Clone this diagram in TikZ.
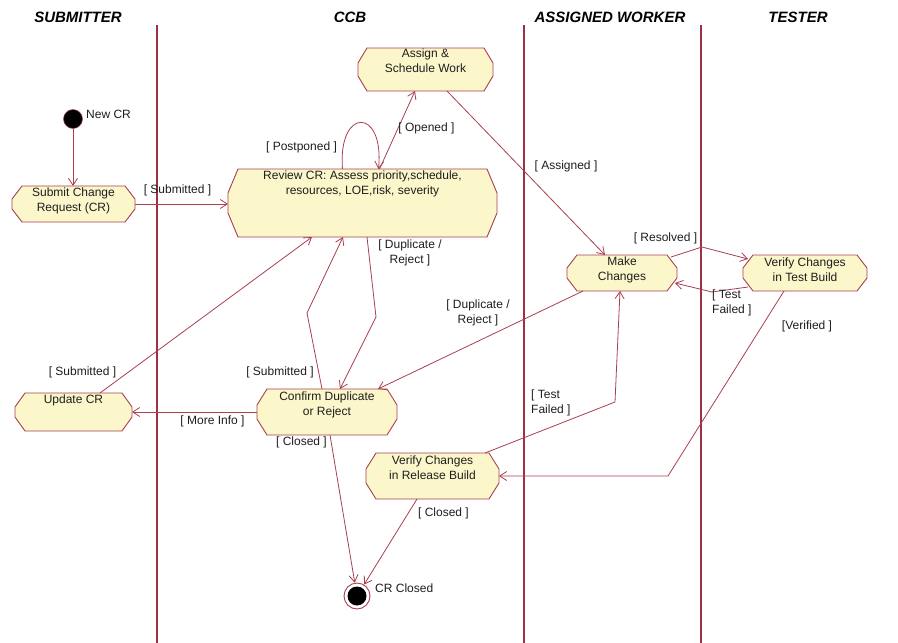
\documentclass[tikz,border=0pt]{standalone}
\usepackage{fontspec}
\setmainfont{Liberation Sans}
\usetikzlibrary{arrows.meta,calc}

\definecolor{lanered}{HTML}{9E2F45}
\definecolor{edgered}{HTML}{A8404F}
\definecolor{statefill}{HTML}{FCF6CB}
\definecolor{inkgray}{HTML}{1E1E1E}

% Octagonal outline of an activity state: node name, chamfer width, chamfer height
\newcommand\chamferbox[3]{%
  \filldraw[boxline]
    ($(#1.north west)+(#2,0)$) -- ($(#1.north east)+(-#2,0)$) --
    ($(#1.north east)+(0,#3)$) -- ($(#1.south east)+(0,-#3)$) --
    ($(#1.south east)+(-#2,0)$) -- ($(#1.south west)+(#2,0)$) --
    ($(#1.south west)+(0,-#3)$) -- ($(#1.north west)+(0,#3)$) -- cycle;}

\tikzset{
  lane/.style={draw=lanered, line width=2pt},
  statebox/.style={rectangle, inner sep=0pt, outer sep=0pt},
  boxline/.style={draw=edgered, fill=statefill, line width=0.9pt},
  boxtext/.style={anchor=north, inner sep=0pt, align=center, text=inkgray,
    font=\fontsize{12}{15}\selectfont},
  guard/.style={inner sep=0pt, align=center, text=inkgray,
    font=\fontsize{12}{15}\selectfont},
  flow/.style={draw=edgered, line width=0.8pt,
    -{Straight Barb[length=7pt,width=9pt]}},
  header/.style={inner sep=0pt, text=black,
    font=\fontsize{15}{15}\selectfont\bfseries\itshape},
}

\begin{document}
\begin{tikzpicture}[x=1pt,y=-1pt]
\fill[white] (0,0) rectangle (898,643);
\useasboundingbox (0,0) rectangle (898,643);

% swimlane titles
\node[header] (h-sub) at (78,17) {SUBMITTER};
\node[header] (h-ccb) at (350,17) {CCB};
\node[header] (h-aw)  at (610,17) {ASSIGNED WORKER};
\node[header] (h-tst) at (798,17) {TESTER};

% swimlane separators
\coordinate (l1t) at (157,25);  \coordinate (l1b) at (157,643);
\coordinate (l2t) at (524,25);  \coordinate (l2b) at (524,643);
\coordinate (l3t) at (701,25);  \coordinate (l3b) at (701,643);
\draw[lane] (l1t) -- (l1b);
\draw[lane] (l2t) -- (l2b);
\draw[lane] (l3t) -- (l3b);

% activity states
\node[statebox, minimum width=123pt, minimum height=36pt] (submit)  at (73.5,204) {};
\node[statebox, minimum width=269pt, minimum height=68pt] (review)  at (362.5,203) {};
\node[statebox, minimum width=135pt, minimum height=43pt] (assign)  at (425.5,69.5) {};
\node[statebox, minimum width=110pt, minimum height=36pt] (make)    at (622,273) {};
\node[statebox, minimum width=124pt, minimum height=36pt] (vtest)   at (805,273) {};
\node[statebox, minimum width=117pt, minimum height=38pt] (update)  at (73.5,412) {};
\node[statebox, minimum width=140pt, minimum height=46pt] (confirm) at (327,412) {};
\node[statebox, minimum width=133pt, minimum height=46pt] (vrel)    at (432.5,476) {};

\chamferbox{submit}{10}{13}
\chamferbox{review}{10}{24}
\chamferbox{assign}{9}{15}
\chamferbox{make}{10}{13}
\chamferbox{vtest}{10}{13}
\chamferbox{update}{10}{14}
\chamferbox{confirm}{10}{16}
\chamferbox{vrel}{10}{16}

\node[boxtext] (submit-t)  at ($(submit.north)+(0,2)$)  {Submit Change\\Request (CR)};
\node[boxtext] (review-t)  at ($(review.north)+(0,2)$)  {Review CR: Assess priority,schedule,\\resources, LOE,risk, severity};
\node[boxtext] (assign-t)  at ($(assign.north)+(0,1)$)  {Assign \&\\Schedule Work};
\node[boxtext] (make-t)    at ($(make.north)+(0,2)$)    {Make\\Changes};
\node[boxtext] (vtest-t)   at ($(vtest.north)+(0,2.5)$) {Verify Changes\\in Test Build};
\node[boxtext] (update-t)  at ($(update.north)+(0,2)$)  {Update CR};
\node[boxtext] (confirm-t) at ($(confirm.north)+(0,3)$) {Confirm Duplicate\\or Reject};
\node[boxtext] (vrel-t)    at ($(vrel.north)+(0,3)$)    {Verify Changes\\in Release Build};

% initial and final states
\node[circle, fill=black, draw=edgered, line width=0.5pt, minimum size=19pt, inner sep=0pt] (init) at (73,119) {};
\node[circle, fill=white, draw=edgered, line width=0.9pt, minimum size=26pt, inner sep=0pt] (final) at (357,596) {};
\fill[black] (final) circle[radius=9.5pt];
\node[guard, anchor=west] (init-l)  at (86,114)  {New CR};
\node[guard, anchor=west] (final-l) at (375,588) {CR Closed};

% transitions
\draw[flow] (init.south) -- (init.south |- submit.north);
\draw[flow] (submit.east) -- (submit.east -| review.west);
\draw[flow] ($(review.north)+(-20,0)$) .. controls ($(review.north)+(-25,-62)$) and ($(review.north)+(22,-62)$) .. ($(review.north)+(16,0)$);
\draw[flow] ($(review.north)+(17,0)$) -- ($(assign.south)+(-10.5,0)$);
\draw[flow] ($(assign.south)+(21.5,0)$) -- ($(make.north)+(-17,0)$);
\draw[flow] ($(make.north east)+(-6,2)$) -- (702,247) -- ($(vtest.north west)+(5,4)$);
\draw[flow] ($(vtest.south west)+(5,-4)$) -- (712,292) -- ($(make.south east)+(-2,-8)$);
\draw[flow] ($(vtest.south)+(-21,0)$) -- (vrel.east -| 668,0) -- (vrel.east);
\draw[flow] ($(vrel.north east)+(-14,0)$) -- (615,402) -- ($(make.south)+(-2,0)$);
\draw[flow] ($(make.south west)+(16,0)$) -- ($(confirm.north east)+(-19,0)$);
\draw[flow] ($(review.south)+(4.5,0)$) -- (376,317) -- ($(confirm.north)+(13,0)$);
\draw[flow] ($(confirm.north)+(-5,0)$) -- (307,313) -- ($(review.south)+(-19.5,0)$);
\draw[flow] ($(update.north)+(26.5,0)$) -- ($(review.south)+(-50.5,0)$);
\draw[flow] (confirm.west) -- (update.east);
\draw[flow] ($(confirm.south)+(3,0)$) -- (final);
\draw[flow] ($(vrel.south)+(-15.5,0)$) -- (final);

% guard conditions
\node[guard] (g-sub1)  at (177.5,190) {[ Submitted ]};
\node[guard] (g-post)  at (301.5,147) {[ Postponed ]};
\node[guard] (g-open)  at (426.5,128) {[ Opened ]};
\node[guard] (g-asg)   at (566,166)   {[ Assigned ]};
\node[guard] (g-res)   at (665.5,238) {[ Resolved ]};
\node[guard, anchor=west, align=left] (g-tf1) at (712,303) {[ Test\\Failed ]};
\node[guard] (g-ver)   at (807,326)   {[Verified ]};
\node[guard] (g-dup1)  at (410,253)   {[ Duplicate /\\Reject ]};
\node[guard] (g-dup2)  at (478,313)   {[ Duplicate /\\Reject ]};
\node[guard] (g-sub2)  at (82.5,372)  {[ Submitted ]};
\node[guard] (g-sub3)  at (280,372)   {[ Submitted ]};
\node[guard] (g-info)  at (212.5,421) {[ More Info ]};
\node[guard] (g-cls1)  at (301.5,442) {[ Closed ]};
\node[guard, anchor=west, align=left] (g-tf2) at (531,403) {[ Test\\Failed ]};
\node[guard] (g-cls2)  at (443.5,513) {[ Closed ]};
\end{tikzpicture}
\end{document}
